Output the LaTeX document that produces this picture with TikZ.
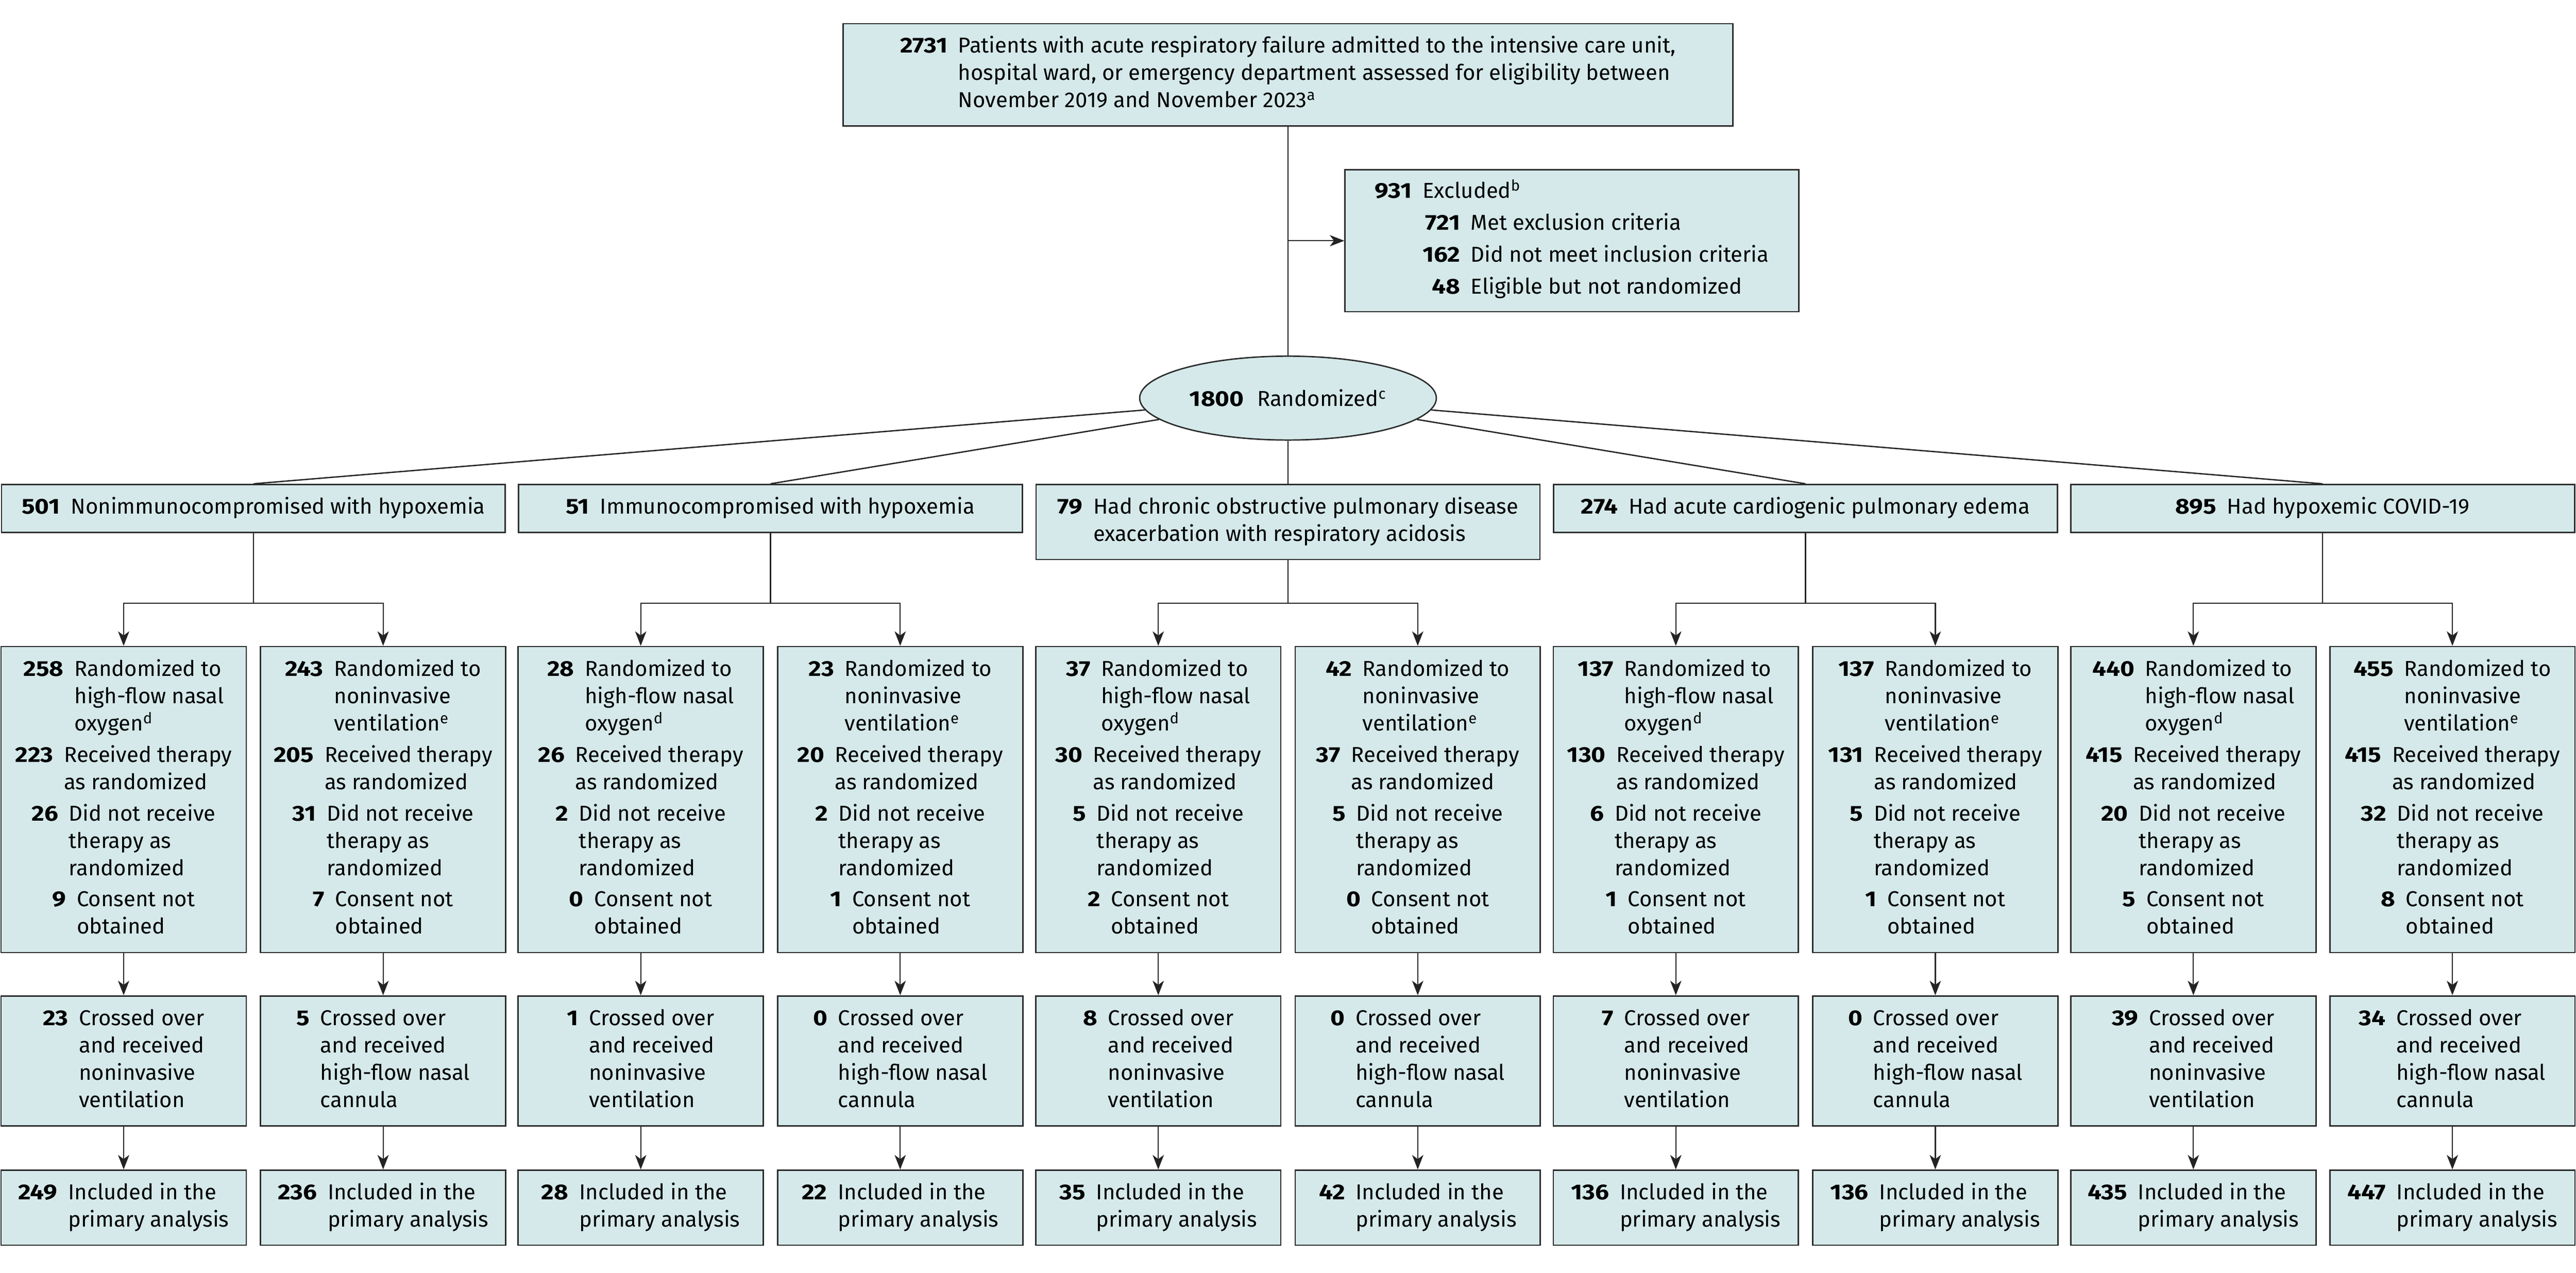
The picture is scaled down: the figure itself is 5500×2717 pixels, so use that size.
\documentclass[tikz,border=0pt]{standalone}
\usepackage{fontspec}
\setmainfont{Fira Sans}[BoldFeatures={FakeStretch=1.14}]
\usetikzlibrary{shapes.geometric,arrows.meta}
\definecolor{boxfill}{RGB}{213,233,234}
\definecolor{boxline}{RGB}{45,45,45}
\definecolor{conncol}{RGB}{35,35,35}
\newlength{\ngap}\setlength{\ngap}{6.5pt}
\newcommand{\itm}[2]{\textbf{#1}\hspace{\ngap}\begin{tabular}[t]{@{}l@{}}#2\end{tabular}}
\newcommand{\igap}{1.4pt}
\newcommand{\detA}[4]{\itm{#1}{Randomized to\\high-flow nasal\\oxygen\textsuperscript{d}}\\[\igap]\itm{#2}{Received therapy\\as randomized}\\[\igap]\itm{#3}{Did not receive\\therapy as\\randomized}\\[\igap]\itm{#4}{Consent not\\obtained}}
\newcommand{\detB}[4]{\itm{#1}{Randomized to\\noninvasive\\ventilation\textsuperscript{e}}\\[\igap]\itm{#2}{Received therapy\\as randomized}\\[\igap]\itm{#3}{Did not receive\\therapy as\\randomized}\\[\igap]\itm{#4}{Consent not\\obtained}}
\newcommand{\crA}[1]{\itm{#1}{Crossed over\\and received\\noninvasive\\ventilation}}
\newcommand{\crB}[1]{\itm{#1}{Crossed over\\and received\\high-flow nasal\\cannula}}
\newcommand{\inc}[1]{\itm{#1}{Included in the\\primary analysis}}
\begin{document}
\begin{tikzpicture}[x=0.01cm,y=-0.01cm,
  box/.style={draw=boxline, fill=boxfill, line width=0.85pt, inner sep=0pt, align=center,
    font=\fontsize{13.1}{16.6}\selectfont},
  sub/.style={box, minimum width=5.23cm, anchor=north},
  det/.style={sub, minimum height=6.53cm},
  cross/.style={sub, minimum height=2.77cm},
  incl/.style={sub, minimum height=1.60cm},
  grp/.style={box, minimum width=10.75cm, minimum height=1.02cm, anchor=north},
  conn/.style={draw=conncol, line width=0.7pt},
  slant/.style={draw=conncol, line width=0.8pt},
  arr/.style={conn, -{Stealth[length=8.8pt, width=6.8pt, inset=2.5pt]}}]
\useasboundingbox (0,0) rectangle (5500,2717);

\node[box, minimum width=18.98cm, minimum height=2.18cm] (top) at (2750,159.5)
  {\itm{2731}{Patients with acute respiratory failure admitted to the intensive care unit,\\hospital ward, or emergency department assessed for eligibility between\\November 2019 and November 2023\textsuperscript{a}}};

\node[box, minimum width=9.68cm, minimum height=3.03cm] (excl) at (3356,514)
  {\begin{tabular}{@{}r@{\hspace{\ngap}}l@{}}
   \textbf{931} & Excluded\textsuperscript{b}\\[2.8pt]
   & \begin{tabular}[t]{@{}r@{\hspace{\ngap}}l@{}}
     \textbf{721} & Met exclusion criteria\\[2.8pt]
     \textbf{162} & Did not meet inclusion criteria\\[2.8pt]
     \textbf{48} & Eligible but not randomized
     \end{tabular}
   \end{tabular}};

\node[box, ellipse, minimum width=6.33cm, minimum height=1.79cm] (rand) at (2750,850)
  {\textbf{1800}\hspace{8pt}Randomized\textsuperscript{c}};

\node[grp] (g1) at (541,1033) {\itm{501}{Nonimmunocompromised with hypoxemia}};
\node[grp] (g2) at (1645,1033) {\itm{51}{Immunocompromised with hypoxemia}};
\node[grp, minimum height=1.60cm] (g3) at (2750,1033) {\itm{79}{Had chronic obstructive pulmonary disease\\exacerbation with respiratory acidosis}};
\node[grp] (g4) at (3855,1033) {\itm{274}{Had acute cardiogenic pulmonary edema}};
\node[grp] (g5) at (4959,1033) {\itm{895}{Had hypoxemic COVID-19}};

% group 1
\node[det] (a1) at (264,1379) {\detA{258}{223}{26}{9}};
\node[det] (b1) at (818,1379) {\detB{243}{205}{31}{7}};
\node[cross] (ca1) at (264,2125) {\crA{23}};
\node[cross] (cb1) at (818,2125) {\crB{5}};
\node[incl] (ia1) at (264,2497) {\inc{249}};
\node[incl] (ib1) at (818,2497) {\inc{236}};
% group 2
\node[det] (a2) at (1368,1379) {\detA{28}{26}{2}{0}};
\node[det] (b2) at (1922,1379) {\detB{23}{20}{2}{1}};
\node[cross] (ca2) at (1368,2125) {\crA{1}};
\node[cross] (cb2) at (1922,2125) {\crB{0}};
\node[incl] (ia2) at (1368,2497) {\inc{28}};
\node[incl] (ib2) at (1922,2497) {\inc{22}};
% group 3
\node[det] (a3) at (2473,1379) {\detA{37}{30}{5}{2}};
\node[det] (b3) at (3027,1379) {\detB{42}{37}{5}{0}};
\node[cross] (ca3) at (2473,2125) {\crA{8}};
\node[cross] (cb3) at (3027,2125) {\crB{0}};
\node[incl] (ia3) at (2473,2497) {\inc{35}};
\node[incl] (ib3) at (3027,2497) {\inc{42}};
% group 4
\node[det] (a4) at (3578,1379) {\detA{137}{130}{6}{1}};
\node[det] (b4) at (4132,1379) {\detB{137}{131}{5}{1}};
\node[cross] (ca4) at (3578,2125) {\crA{7}};
\node[cross] (cb4) at (4132,2125) {\crB{0}};
\node[incl] (ia4) at (3578,2497) {\inc{136}};
\node[incl] (ib4) at (4132,2497) {\inc{136}};
% group 5
\node[det] (a5) at (4683,1379) {\detA{440}{415}{20}{5}};
\node[det] (b5) at (5236,1379) {\detB{455}{415}{32}{8}};
\node[cross] (ca5) at (4683,2125) {\crA{39}};
\node[cross] (cb5) at (5236,2125) {\crB{34}};
\node[incl] (ia5) at (4683,2497) {\inc{435}};
\node[incl] (ib5) at (5236,2497) {\inc{447}};

% connectors
\draw[conn] (top.south) -- (rand.north);
\coordinate (exj) at (2750,514);
\draw[arr] (exj) -- (excl.west);
\foreach \g in {1,2,4,5} {\draw[slant] (rand) -- (g\g.north);}
\draw[conn] (rand.south) -- (g3.north);
\foreach \g/\x in {1/541,2/1645,3/2750,4/3855,5/4959} {
  \coordinate (s\g) at (\x,1288);
  \draw[conn] (g\g.south) -- (s\g);
  \draw[arr] (s\g) -| (a\g.north);
  \draw[arr] (s\g) -| (b\g.north);
  \draw[arr] (a\g) -- (ca\g);
  \draw[arr] (b\g) -- (cb\g);
  \draw[arr] (ca\g) -- (ia\g);
  \draw[arr] (cb\g) -- (ib\g);
}
\end{tikzpicture}
\end{document}
